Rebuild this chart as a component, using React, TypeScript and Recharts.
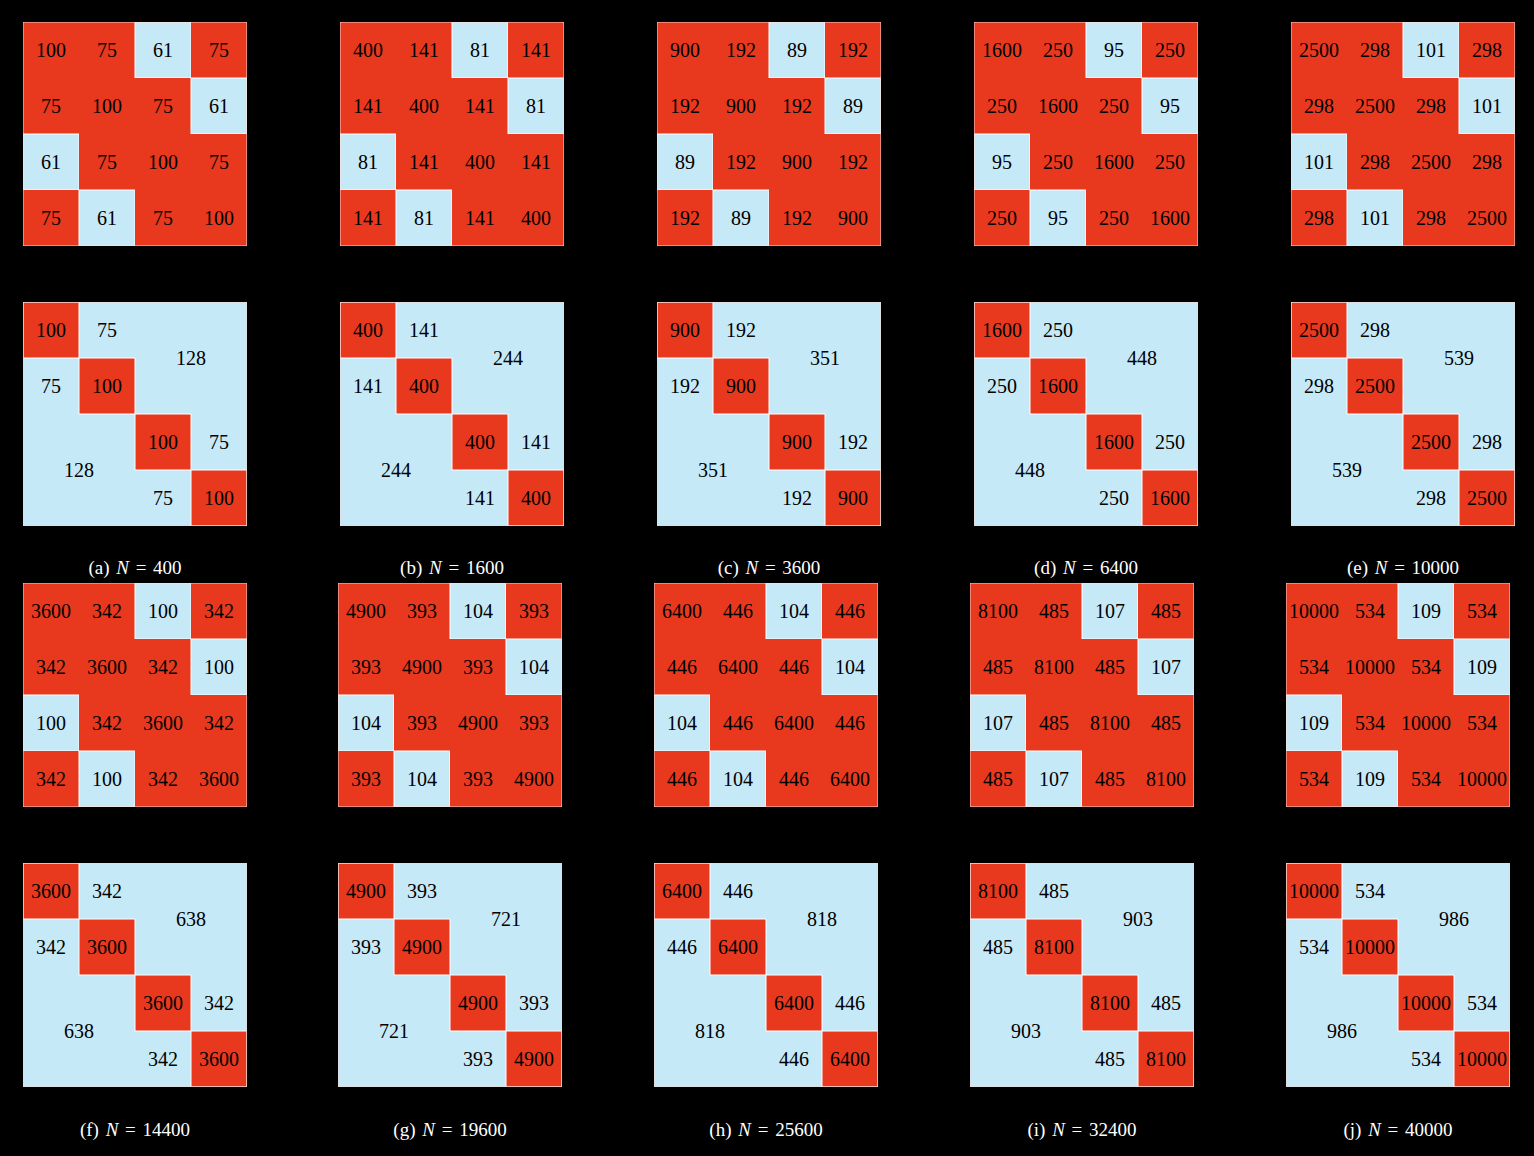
import React from "react";
import { ScatterChart, Scatter, XAxis, YAxis, ReferenceArea } from "recharts";

// values, one entry per panel (a)..(j)
const LETTERS = ["a", "b", "c", "d", "e", "f", "g", "h", "i", "j"];
const N_VALUES = [400, 1600, 3600, 6400, 10000, 14400, 19600, 25600, 32400, 40000];
const DIAG = [100, 400, 900, 1600, 2500, 3600, 4900, 6400, 8100, 10000];
const NEAR = [75, 141, 192, 250, 298, 342, 393, 446, 485, 534];
const FAR = [61, 81, 89, 95, 101, 100, 104, 104, 107, 109];
const LOW_RANK = [128, 244, 351, 448, 539, 638, 721, 818, 903, 986];

// which entry sits in each cell of the full 4x4 matrix
const FULL_PATTERN = [
    ["d", "n", "f", "n"],
    ["n", "d", "n", "f"],
    ["f", "n", "d", "n"],
    ["n", "f", "n", "d"],
];

const RED = "#e8391f";
const BLUE = "#c6e9f8";
const FONT = "'Liberation Serif', 'DejaVu Serif', serif";
const SIZE = 224;

const COL_X = [
    [23, 340, 657, 974, 1291],
    [23, 338, 654, 970, 1286],
];
const ROW_Y = [
    { top: 22, bottom: 302, caption: 557 },
    { top: 583, bottom: 863, caption: 1119 },
];

type Cell = { x0: number; x1: number; y0: number; y1: number; value: number; red: boolean };

function fullCells(i: number): Cell[] {
    const cells: Cell[] = [];
    FULL_PATTERN.forEach((row, r) =>
        row.forEach((k, c) => {
            const value = k === "d" ? DIAG[i] : k === "n" ? NEAR[i] : FAR[i];
            cells.push({ x0: c, x1: c + 1, y0: r, y1: r + 1, value, red: k !== "f" });
        })
    );
    return cells;
}

function compressedCells(i: number): Cell[] {
    const cells: Cell[] = [
        { x0: 2, x1: 4, y0: 0, y1: 2, value: LOW_RANK[i], red: false },
        { x0: 0, x1: 2, y0: 2, y1: 4, value: LOW_RANK[i], red: false },
    ];
    for (const b of [0, 2]) {
        cells.push({ x0: b + 1, x1: b + 2, y0: b, y1: b + 1, value: NEAR[i], red: false });
        cells.push({ x0: b, x1: b + 1, y0: b + 1, y1: b + 2, value: NEAR[i], red: false });
    }
    for (let k = 0; k < 4; k++) {
        cells.push({ x0: k, x1: k + 1, y0: k, y1: k + 1, value: DIAG[i], red: true });
    }
    return cells;
}

function Matrix({ cells, left, top, strokeRed }: { cells: Cell[]; left: number; top: number; strokeRed: boolean }) {
    const centers = cells.map((c) => ({ x: (c.x0 + c.x1) / 2, y: (c.y0 + c.y1) / 2 }));
    // unstroked colour fills the whole matrix first so no seams show between cells
    const base = strokeRed ? BLUE : RED;
    return (
        <div style={{ position: "absolute", left, top }}>
            <ScatterChart width={SIZE} height={SIZE} margin={{ top: 0, right: 0, bottom: 0, left: 0 }}>
                <XAxis type="number" dataKey="x" domain={[0, 4]} hide />
                <YAxis type="number" dataKey="y" domain={[0, 4]} reversed hide />
                <ReferenceArea x1={0} x2={4} y1={0} y2={4} fill={base} fillOpacity={1} stroke="none" />
                {cells.map((c, idx) => (
                    <ReferenceArea
                        key={idx}
                        x1={c.x0}
                        x2={c.x1}
                        y1={c.y0}
                        y2={c.y1}
                        fill={c.red ? RED : BLUE}
                        fillOpacity={1}
                        stroke={c.red === strokeRed ? "#ffffff" : "none"}
                        strokeWidth={1}
                        label={{ value: c.value, position: "center", fill: "#000", fontSize: 20, fontFamily: FONT }}
                    />
                ))}
                <ReferenceArea x1={0} x2={4} y1={0} y2={4} fill="none" fillOpacity={0} stroke="#f4d6cf" strokeWidth={1} />
                <Scatter data={centers} isAnimationActive={false} shape={() => <g />} />
            </ScatterChart>
        </div>
    );
}

export default function App() {
    return (
        <div style={{ position: "absolute", left: 0, top: 0, width: 1534, height: 1156, background: "#000", overflow: "hidden" }}>
            {N_VALUES.map((n, i) => {
                const row = Math.floor(i / 5);
                const x = COL_X[row][i % 5];
                const y = ROW_Y[row];
                return (
                    <React.Fragment key={n}>
                        <Matrix cells={fullCells(i)} left={x} top={y.top} strokeRed={false} />
                        <Matrix cells={compressedCells(i)} left={x} top={y.bottom} strokeRed={true} />
                        <div
                            style={{
                                position: "absolute",
                                left: x - 40,
                                top: y.caption,
                                width: SIZE + 80,
                                textAlign: "center",
                                color: "#fff",
                                fontFamily: FONT,
                                fontSize: 19,
                                lineHeight: "22px",
                                whiteSpace: "pre",
                                wordSpacing: 2,
                            }}
                        >
                            {`(${LETTERS[i]}) `}
                            <i>N</i>
                            {` = ${n}`}
                        </div>
                    </React.Fragment>
                );
            })}
        </div>
    );
}
